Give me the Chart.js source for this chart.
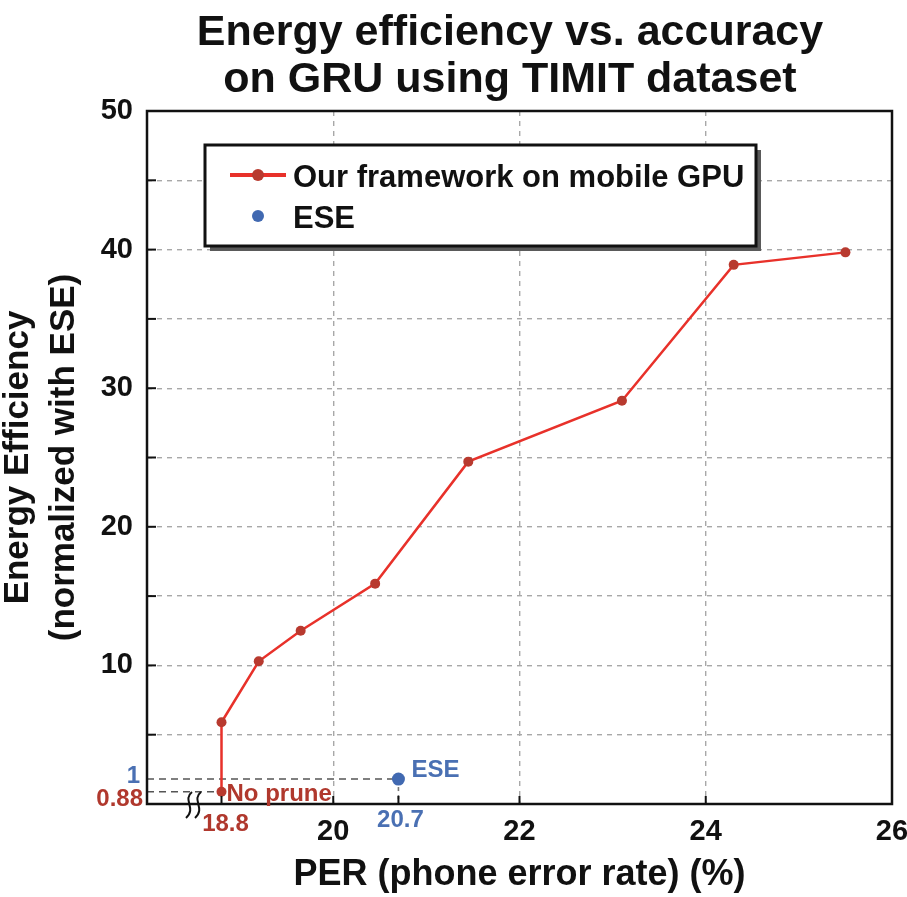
<!DOCTYPE html>
<html>
<head>
<meta charset="utf-8">
<script src="https://cdn.jsdelivr.net/npm/chart.js@4.4.1/dist/chart.umd.min.js"></script>
<style>
  html, body { margin: 0; padding: 0; background: #fff; }
  #wrap { width: 907px; height: 897px; position: relative; }
</style>
</head>
<body>
<div id="wrap"><canvas id="myChart"></canvas></div>
<script>
"use strict";

// ---------- data ----------
var titleLines = ["Energy efficiency vs. accuracy", "on GRU using TIMIT dataset"];
var seriesNames = ["Our framework on mobile GPU", "ESE"];
var perValues = [18.8, 18.8, 19.2, 19.65, 20.45, 21.45, 23.1, 24.3, 25.5];
var efficiencyValues = [0.88, 5.9, 10.3, 12.5, 15.9, 24.7, 29.1, 38.9, 39.8];
var esePer = [20.7];
var eseEfficiency = [1.8];
var eseTickText = "1";
var noPruneText = "No prune";
var xTickLabels = [20, 22, 24, 26];
var yTickLabels = [10, 20, 30, 40, 50];

var FONT = "'Liberation Sans', Arial, Helvetica, sans-serif";
var RED_LINE = "#e8312a";
var RED_DOT = "#b83a2f";
var RED_TEXT = "#b0382d";
var BLUE = "#4169b1";
var BLUE_TEXT = "#4a70b3";
var GRID = "#a8a8a8";

function strokeLine(ctx, x1, y1, x2, y2) {
  ctx.beginPath();
  ctx.moveTo(x1, y1);
  ctx.lineTo(x2, y2);
  ctx.stroke();
}

//--------- extra drawing: box, inward ticks, notes, legend, title ---------
var decorPlugin = {
  id: "decor",
  beforeDatasetsDraw: function (chart) {
    var ctx = chart.ctx;
    var xs = chart.scales.x;
    var ys = chart.scales.y;
    var a = chart.chartArea;
    var ex = xs.getPixelForValue(esePer[0]);
    var ey = ys.getPixelForValue(eseEfficiency[0]);
    var nx = xs.getPixelForValue(perValues[0]);
    var ny = ys.getPixelForValue(efficiencyValues[0]);
    ctx.save();
    ctx.strokeStyle = "#555";
    ctx.lineWidth = 1.6;
    ctx.setLineDash([7, 5]);
    strokeLine(ctx, a.left, ey, ex, ey);
    strokeLine(ctx, a.left, ny, nx, ny);
    ctx.strokeStyle = "#777";
    ctx.setLineDash([4, 4]);
    strokeLine(ctx, ex, ey, ex, a.bottom);
    ctx.restore();
  },
  afterDraw: function (chart) {
    var ctx = chart.ctx;
    var xs = chart.scales.x;
    var ys = chart.scales.y;
    var a = chart.chartArea;
    ctx.save();

    // plot frame
    ctx.strokeStyle = "#111";
    ctx.lineWidth = 2.5;
    ctx.strokeRect(a.left, a.top, a.right - a.left, a.bottom - a.top);

    // inward ticks
    ctx.lineWidth = 2;
    for (var v = 5; v < 50; v += 5) {
      var py = ys.getPixelForValue(v);
      strokeLine(ctx, a.left, py, a.left + 9, py);
    }
    var bottomTicks = [20, 22, 24, perValues[0], esePer[0]];
    for (var i = 0; i < bottomTicks.length; i++) {
      var px = xs.getPixelForValue(bottomTicks[i]);
      strokeLine(ctx, px, a.bottom, px, a.bottom - 8);
    }

    // axis break mark
    ctx.lineWidth = 2;
    var bx = a.left + 42;
    for (var k = 0; k < 2; k++) {
      var cx = bx + k * 9;
      ctx.beginPath();
      ctx.moveTo(cx + 3, a.bottom - 12);
      ctx.bezierCurveTo(cx - 7, a.bottom - 4, cx + 8, a.bottom + 4, cx - 3, a.bottom + 14);
      ctx.stroke();
    }

    // notes near the two reference points
    var ex = xs.getPixelForValue(esePer[0]);
    var ey = ys.getPixelForValue(eseEfficiency[0]);
    var nx = xs.getPixelForValue(perValues[0]);
    var ny = ys.getPixelForValue(efficiencyValues[0]);
    ctx.font = "bold 24px " + FONT;
    ctx.textBaseline = "alphabetic";
    ctx.fillStyle = RED_TEXT;
    ctx.textAlign = "left";
    ctx.fillText(noPruneText, nx + 5, ny + 9);
    ctx.textAlign = "center";
    ctx.fillText(String(perValues[0]), nx + 4, a.bottom + 27);
    ctx.textAlign = "right";
    ctx.fillText(String(efficiencyValues[0]), a.left - 4, ny + 14);
    ctx.fillStyle = BLUE_TEXT;
    ctx.fillText(eseTickText, a.left - 7, ey + 4);
    ctx.textAlign = "center";
    ctx.fillText(String(esePer[0]), ex + 2, a.bottom + 23);
    ctx.textAlign = "left";
    ctx.fillText(seriesNames[1], ex + 13, ey - 2);

    // legend box
    var lx = 205, ly = 145, lw = 551, lh = 101;
    ctx.fillStyle = "#5a5a5a";
    ctx.fillRect(lx + 5, ly + 5, lw, lh);
    ctx.fillStyle = "#fff";
    ctx.fillRect(lx, ly, lw, lh);
    ctx.strokeStyle = "#111";
    ctx.lineWidth = 3;
    ctx.strokeRect(lx, ly, lw, lh);
    ctx.strokeStyle = RED_LINE;
    ctx.lineWidth = 4;
    strokeLine(ctx, 230, 175, 286, 175);
    ctx.fillStyle = RED_DOT;
    ctx.beginPath();
    ctx.arc(258, 175, 6, 0, Math.PI * 2);
    ctx.fill();
    ctx.fillStyle = BLUE;
    ctx.beginPath();
    ctx.arc(258, 216, 6, 0, Math.PI * 2);
    ctx.fill();
    ctx.fillStyle = "#111";
    ctx.font = "bold 31px " + FONT;
    ctx.textAlign = "left";
    ctx.fillText(seriesNames[0], 293, 187);
    ctx.fillText(seriesNames[1], 293, 228);

    // title
    ctx.font = "bold 43px " + FONT;
    ctx.textAlign = "center";
    ctx.fillText(titleLines[0], 510, 45);
    ctx.fillText(titleLines[1], 510, 92);

    ctx.restore();
  }
};

var ctx = document.getElementById("myChart").getContext("2d");
var chart = new Chart(ctx, {
  type: "scatter",
  data: {
    datasets: [
      {
        label: seriesNames[0],
        data: perValues.map(function (p, i) { return { x: p, y: efficiencyValues[i] }; }),
        showLine: true,
        borderColor: RED_LINE,
        borderWidth: 2.5,
        pointRadius: 5,
        pointBackgroundColor: RED_DOT,
        pointBorderColor: RED_DOT,
        pointBorderWidth: 0
      },
      {
        label: seriesNames[1],
        data: esePer.map(function (p, i) { return { x: p, y: eseEfficiency[i] }; }),
        pointRadius: 6.5,
        pointBackgroundColor: BLUE,
        pointBorderColor: BLUE,
        pointBorderWidth: 0
      }
    ]
  },
  options: {
    animation: false,
    responsive: true,
    maintainAspectRatio: false,
    layout: { padding: { top: 111, right: 15, left: 0, bottom: 0 } },
    plugins: {
      legend: { display: false },
      title: { display: false },
      tooltip: { enabled: false }
    },
    scales: {
      x: {
        type: "linear",
        min: 18,
        max: 26,
        afterFit: function (scale) {
          scale.height = 93;
          scale.paddingLeft = 0;
          scale.paddingRight = 0;
        },
        border: { display: false, dash: [5, 5] },
        grid: {
          drawTicks: false,
          color: function (c) {
            return c.tick && c.tick.value > 18 && c.tick.value < 26 ? GRID : "transparent";
          },
          lineWidth: 1.4
        },
        ticks: {
          stepSize: 2,
          padding: 11,
          color: "#111",
          font: { family: FONT, size: 29, weight: "bold" },
          callback: function (v) { return xTickLabels.indexOf(v) >= 0 ? String(v) : ""; }
        },
        title: {
          display: true,
          text: "PER (phone error rate) (%)",
          color: "#111",
          font: { family: FONT, size: 36, weight: "bold" },
          padding: { top: 0, bottom: 0 }
        }
      },
      y: {
        min: 0,
        max: 50,
        afterFit: function (scale) {
          scale.width = 147;
          scale.paddingTop = 0;
          scale.paddingBottom = 0;
        },
        border: { display: false, dash: [5, 5] },
        grid: {
          drawTicks: false,
          color: function (c) {
            return c.tick && c.tick.value > 0 && c.tick.value < 50 ? GRID : "transparent";
          },
          lineWidth: 1.4
        },
        ticks: {
          stepSize: 5,
          padding: 14,
          color: "#111",
          font: { family: FONT, size: 29, weight: "bold" },
          callback: function (v) { return yTickLabels.indexOf(v) >= 0 ? String(v) : ""; }
        },
        title: {
          display: true,
          text: ["Energy Efficiency", "(normalized with ESE)"],
          color: "#111",
          font: { family: FONT, size: 35, weight: "bold", lineHeight: 1.3 },
          padding: { top: -4, bottom: 0 }
        }
      }
    }
  },
  plugins: [decorPlugin]
});
</script>
</body>
</html>
